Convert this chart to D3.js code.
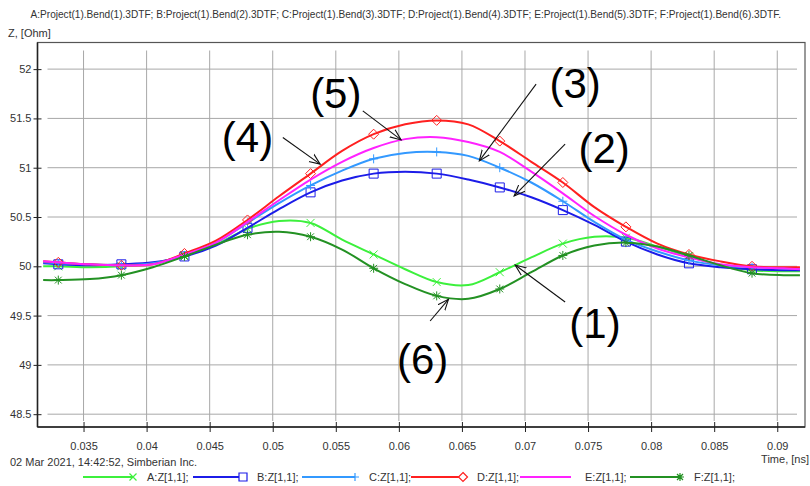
<!DOCTYPE html>
<html>
<head>
<meta charset="utf-8">
<script src="https://cdn.jsdelivr.net/npm/d3@7"></script>
<style>
  body { margin: 0; background: #fff; }
  text { font-family: "Liberation Sans", Arial, sans-serif; }
</style>
</head>
<body>
<div id="chart"></div>
<script>
// time axis samples, [ns]
var times = [0.0318, 0.033, 0.0355, 0.038, 0.0405, 0.043, 0.0455, 0.048, 0.0505, 0.053, 0.0555, 0.058, 0.0605,
             0.063, 0.0655, 0.068, 0.0705, 0.073, 0.0755, 0.078, 0.0805, 0.083, 0.0855, 0.088, 0.0905, 0.0918];
// times where the symbols sit
var markerTimes = [0.033, 0.038, 0.043, 0.048, 0.053, 0.058, 0.063, 0.068, 0.073, 0.078, 0.083, 0.088];

var zA = [50.0, 50.0, 49.99, 50.0, 50.03, 50.11, 50.22, 50.38, 50.46, 50.44, 50.27, 50.12, 49.97,
          49.84, 49.81, 49.94, 50.09, 50.23, 50.3, 50.29, 50.2, 50.1, 50.01, 49.96, 49.95, 49.95];
var zB = [50.03, 50.02, 50.01, 50.02, 50.04, 50.1, 50.21, 50.39, 50.58, 50.75, 50.87, 50.94, 50.96,
          50.94, 50.88, 50.8, 50.7, 50.57, 50.42, 50.25, 50.12, 50.03, 49.99, 49.97, 49.96, 49.96];
var zC = [50.04, 50.03, 50.02, 50.01, 50.03, 50.11, 50.24, 50.44, 50.64, 50.82, 50.97, 51.09, 51.15,
          51.16, 51.12, 51.0, 50.85, 50.66, 50.45, 50.27, 50.15, 50.06, 50.01, 49.99, 49.98, 49.98];
var zD = [50.05, 50.04, 50.02, 50.01, 50.02, 50.13, 50.26, 50.47, 50.71, 50.94, 51.17, 51.34, 51.44,
          51.48, 51.44, 51.27, 51.06, 50.85, 50.6, 50.4, 50.23, 50.12, 50.05, 50.0, 49.99, 49.99];
var zE = [50.05, 50.04, 50.02, 50.01, 50.02, 50.12, 50.24, 50.45, 50.67, 50.88, 51.06, 51.2, 51.29,
          51.31, 51.26, 51.16, 50.96, 50.74, 50.51, 50.32, 50.18, 50.09, 50.02, 49.99, 49.98, 49.97];
var zF = [49.86, 49.86, 49.87, 49.91, 49.99, 50.1, 50.22, 50.32, 50.35, 50.3, 50.17, 49.98, 49.82,
          49.7, 49.67, 49.77, 49.94, 50.11, 50.21, 50.24, 50.2, 50.11, 50.01, 49.93, 49.91, 49.91];

var seriesNames = ['A:Z[1,1];', 'B:Z[1,1];', 'C:Z[1,1];', 'D:Z[1,1];', 'E:Z[1,1];', 'F:Z[1,1];'];
var seriesVals = [zA, zB, zC, zD, zE, zF];
var seriesCols = ['#3cf03c', '#1c1ce8', '#3399ff', '#ff2020', '#ff22ff', '#239123'];
var seriesSym = ['x', 'square', 'plus', 'diamond', 'none', 'star'];

var xTicks = [0.035, 0.04, 0.045, 0.05, 0.055, 0.06, 0.065, 0.07, 0.075, 0.08, 0.085, 0.09];
var yTicks = [48.5, 49, 49.5, 50, 50.5, 51, 51.5, 52];

// callouts (1)..(6): label point and arrow from/to, all in data units
var notes = [
  {label: '(4)', t: 0.0480, z: 51.31, t1: 0.0508, z1: 51.307, t2: 0.05376, z2: 51.036},
  {label: '(5)', t: 0.0550, z: 51.756, t1: 0.05714, z1: 51.577, t2: 0.06018, z2: 51.282},
  {label: '(3)', t: 0.07397, z: 51.858, t1: 0.07088, z1: 51.848, t2: 0.06638, z2: 51.069},
  {label: '(2)', t: 0.07627, z: 51.198, t1: 0.07318, z1: 51.239, t2: 0.06914, z2: 50.714},
  {label: '(1)', t: 0.07555, z: 49.421, t1: 0.07318, z1: 49.638, t2: 0.06922, z2: 50.013},
  {label: '(6)', t: 0.06188, z: 49.056, t1: 0.06248, z1: 49.445, t2: 0.06393, z2: 49.665}
];

var W = 810, H = 486;
var L = 37.5, R = 805, T = 42.5, B = 427;

var svg = d3.select('#chart').append('svg')
            .attr('width', W)
            .attr('height', H);

var x = d3.scaleLinear().domain([0.03135, 0.0922]).range([L, R]);
var y = d3.scaleLinear().domain([48.37, 52.27]).range([B, T]);

var defs = svg.append('defs');
defs.append('clipPath').attr('id', 'plotclip')
    .append('rect').attr('x', L).attr('y', T).attr('width', R - L).attr('height', B - T);
defs.append('marker')
    .attr('id', 'arrowhead')
    .attr('markerUnits', 'userSpaceOnUse')
    .attr('markerWidth', 14).attr('markerHeight', 14)
    .attr('refX', 11).attr('refY', 6)
    .attr('orient', 'auto')
    .append('path')
    .attr('d', 'M0,1.5 L11,6 L0,10.5')
    .attr('fill', 'none')
    .attr('stroke', '#111')
    .attr('stroke-width', 1.1);

// header texts
svg.append('text').text('A:Project(1).Bend(1).3DTF; B:Project(1).Bend(2).3DTF; C:Project(1).Bend(3).3DTF; D:Project(1).Bend(4).3DTF; E:Project(1).Bend(5).3DTF; F:Project(1).Bend(6).3DTF.')
   .attr('x', 30.5).attr('y', 18)
   .attr('font-size', '10.1px')
   .style('fill', '#333');
svg.append('text').text('Z, [Ohm]')
   .attr('x', 8).attr('y', 37)
   .attr('font-size', '11px')
   .style('fill', '#333');

// grid (inset from the frame like the original)
var grid = svg.append('g');
grid.selectAll('line.vg').data(xTicks).enter().append('line')
    .attr('class', 'vg')
    .attr('x1', function(d) { return x(d); })
    .attr('x2', function(d) { return x(d); })
    .attr('y1', T + 8).attr('y2', B - 6)
    .attr('stroke', '#a8a8a8').attr('stroke-width', 1);
grid.selectAll('line.hg').data(yTicks).enter().append('line')
    .attr('class', 'hg')
    .attr('y1', function(d) { return y(d); })
    .attr('y2', function(d) { return y(d); })
    .attr('x1', L + 10).attr('x2', R - 8)
    .attr('stroke', '#a8a8a8').attr('stroke-width', 1);

// frame
svg.append('rect')
   .attr('x', L).attr('y', T)
   .attr('width', R - L).attr('height', B - T)
   .attr('fill', 'none')
   .attr('stroke', '#555').attr('stroke-width', 1.2);
svg.append('line').attr('x1', L).attr('x2', L).attr('y1', T).attr('y2', B)
   .attr('stroke', '#222').attr('stroke-width', 1.5);
svg.append('line').attr('x1', L).attr('x2', R).attr('y1', B).attr('y2', B)
   .attr('stroke', '#222').attr('stroke-width', 1.5);

// axes - ticks cross the axis lines
var xAxis = d3.axisBottom(x).tickValues(xTicks).tickSize(0).tickPadding(15)
              .tickFormat(function(d) { return String(+d.toFixed(3)); });
var gx = svg.append('g').attr('transform', 'translate(0,' + B + ')').call(xAxis);
gx.select('.domain').remove();
gx.selectAll('.tick').append('line').attr('y1', -5).attr('y2', 5).attr('stroke', '#222');
gx.selectAll('text').attr('font-size', '11px').attr('font-family', '"Liberation Sans", Arial, sans-serif').style('fill', '#333');

var yAxis = d3.axisLeft(y).tickValues(yTicks).tickSize(0).tickPadding(6)
              .tickFormat(function(d) { return String(d); });
var gy = svg.append('g').attr('transform', 'translate(' + L + ',0)').call(yAxis);
gy.select('.domain').remove();
gy.selectAll('.tick').append('line').attr('x1', -4).attr('x2', 4).attr('stroke', '#222');
gy.selectAll('text').attr('font-size', '11px').attr('font-family', '"Liberation Sans", Arial, sans-serif').style('fill', '#333');

// symbol path for a marker
function symPath(kind, s) {
  if (kind == 'x') return 'M' + (-s) + ',' + (-s) + 'L' + s + ',' + s + 'M' + (-s) + ',' + s + 'L' + s + ',' + (-s);
  if (kind == 'plus') return 'M' + (-s) + ',0L' + s + ',0M0,' + (-s) + 'L0,' + s;
  if (kind == 'square') return 'M' + (-s) + ',' + (-s) + 'H' + s + 'V' + s + 'H' + (-s) + 'Z';
  if (kind == 'diamond') return 'M0,' + (-s) + 'L' + s + ',0L0,' + s + 'L' + (-s) + ',0Z';
  if (kind == 'star') {
    var k = s * 0.75;
    return 'M' + (-s) + ',0L' + s + ',0M0,' + (-s) + 'L0,' + s +
           'M' + (-k) + ',' + (-k) + 'L' + k + ',' + k + 'M' + (-k) + ',' + k + 'L' + k + ',' + (-k);
  }
  return '';
}
var symSize = {x: 4, plus: 4.5, square: 4.5, diamond: 5, star: 4.5};

var line = d3.line()
             .x(function(d) { return x(d[0]); })
             .y(function(d) { return y(d[1]); })
             .curve(d3.curveCatmullRom.alpha(0.5));

var plot = svg.append('g').attr('clip-path', 'url(#plotclip)');

seriesVals.forEach(function(vals, i) {
  var pts = times.map(function(t, j) { return [t, vals[j]]; });
  plot.append('path')
      .datum(pts)
      .attr('d', line)
      .attr('fill', 'none')
      .attr('stroke', seriesCols[i])
      .attr('stroke-width', 2);

  if (seriesSym[i] != 'none') {
    var mk = pts.filter(function(p) {
      return markerTimes.some(function(m) { return Math.abs(m - p[0]) < 1e-6; });
    });
    plot.selectAll('path.m' + i).data(mk).enter().append('path')
        .attr('class', 'm' + i)
        .attr('transform', function(d) { return 'translate(' + x(d[0]) + ',' + y(d[1]) + ')'; })
        .attr('d', symPath(seriesSym[i], symSize[seriesSym[i]]))
        .attr('fill', 'none')
        .attr('stroke', seriesCols[i])
        .attr('stroke-width', 1);
  }
});

// callouts
var ann = svg.append('g');
notes.forEach(function(n) {
  ann.append('line')
     .attr('x1', x(n.t1)).attr('y1', y(n.z1))
     .attr('x2', x(n.t2)).attr('y2', y(n.z2))
     .attr('stroke', '#111').attr('stroke-width', 1.1)
     .attr('marker-end', 'url(#arrowhead)');
  ann.append('text').text(n.label)
     .attr('x', x(n.t)).attr('y', y(n.z))
     .attr('text-anchor', 'middle')
     .attr('dominant-baseline', 'central')
     .attr('font-size', '42px')
     .style('fill', '#000');
});

// footer
svg.append('text').text('02 Mar 2021, 14:42:52, Simberian Inc.')
   .attr('x', 10).attr('y', 466)
   .attr('font-size', '11px')
   .style('fill', '#333');
svg.append('text').text('Time, [ns]')
   .attr('x', 809).attr('y', 463)
   .attr('text-anchor', 'end')
   .attr('font-size', '11px')
   .style('fill', '#333');

// legend
var legX = [83, 193, 302, 411, 520, 630];
var legLen = [50, 50, 53, 52, 51, 50];
var legY = 477;
var leg = svg.append('g');
seriesNames.forEach(function(nm, i) {
  var x0 = legX[i], x1 = legX[i] + legLen[i];
  leg.append('line').attr('x1', x0).attr('x2', x1).attr('y1', legY).attr('y2', legY)
     .attr('stroke', seriesCols[i]).attr('stroke-width', 2);
  if (seriesSym[i] != 'none') {
    leg.append('path')
       .attr('transform', 'translate(' + x1 + ',' + legY + ')')
       .attr('d', symPath(seriesSym[i], symSize[seriesSym[i]] - 0.5))
       .attr('fill', seriesSym[i] == 'square' || seriesSym[i] == 'diamond' ? '#fff' : 'none')
       .attr('stroke', seriesCols[i]).attr('stroke-width', 1.2);
  }
  leg.append('text').text(nm)
     .attr('x', x1 + 14).attr('y', legY + 4)
     .attr('font-size', '11px')
     .style('fill', '#333');
});
</script>
</body>
</html>
